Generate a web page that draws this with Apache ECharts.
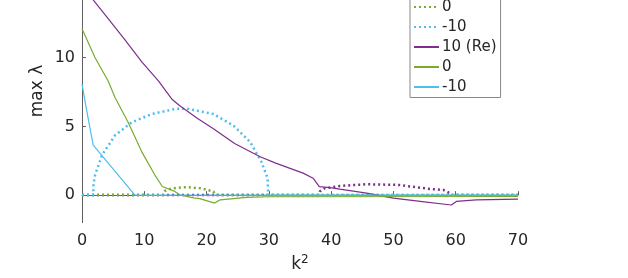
<!DOCTYPE html>
<html><head><meta charset="utf-8">
<script src="https://cdn.jsdelivr.net/npm/echarts@6/dist/echarts.min.js"></script>
<style>html,body{margin:0;padding:0;background:#fff;overflow:hidden}#c{position:absolute;left:0;top:-30px;width:628px;height:308px}</style>
</head><body><div id="c"></div>
<script>
// x tick values and y tick values
const xTicks = [0, 10, 20, 30, 40, 50, 60, 70];
const yTicks = [0, 5, 10, 15];

// 10 (dotted, purple)
const d10X = [0, 38.0, 38.2, 39, 41.4, 45.7, 51, 52.7, 55.9, 58, 59.1, 59.5, 70];
const d10Y = [0, 0, 0.27, 0.5, 0.67, 0.79, 0.74, 0.63, 0.45, 0.38, 0.14, 0, 0];
// 0 (dotted, green)
const d0X = [0, 13.0, 13.3, 14.5, 16.8, 19, 21.1, 21.4, 70];
const d0Y = [0, 0, 0.3, 0.5, 0.58, 0.5, 0.27, 0, 0];
// -10 (dotted, cyan)
const dm10X = [0, 1.8, 1.85, 2.1, 3.2, 5.3, 8.0, 11.2, 14.9, 16.8, 21.1, 24.3, 27.0, 28.8, 29.8, 29.9, 70];
const dm10Y = [0, 0, 0.8, 1.46, 2.9, 4.35, 5.3, 5.9, 6.27, 6.3, 5.9, 5.07, 3.87, 2.43, 1.23, 0, 0];
// 10 (Re) (solid, purple)
const s10X = [0, 1.8, 4.2, 6.9, 9.6, 12.3, 14.4, 15.7, 18.5, 21.1, 24.5, 28.6, 31, 33.4, 35.5, 37.1, 38.1, 39.8, 41.4, 45.7, 50, 54.3, 59.3, 60.1, 63.3, 70];
const s10Y = [15.4, 14.2, 12.85, 11.3, 9.7, 8.3, 7.0, 6.5, 5.6, 4.83, 3.75, 2.79, 2.35, 1.95, 1.6, 1.23, 0.62, 0.55, 0.43, 0.14, -0.22, -0.45, -0.72, -0.46, -0.34, -0.29];
// 0 (solid, green)
const s0X = [0, 2.1, 4.2, 5.3, 7.4, 9.6, 11.7, 12.9, 14.9, 15.7, 17.9, 18.9, 21.3, 22.2, 26.4, 30, 70];
const s0Y = [12.1, 10.0, 8.3, 7.1, 5.3, 3.15, 1.46, 0.63, 0.27, 0.02, -0.2, -0.25, -0.58, -0.34, -0.17, -0.12, -0.1];
// -10 (solid, cyan)
const sm10X = [0, 0.5, 1.0, 1.8, 8.5, 70];
const sm10Y = [8.1, 6.8, 5.55, 3.63, 0, 0];

const legendLabels = { d10: '10', d0: '0', dm10: '-10', s10: '10 (Re)', s0: '0', sm10: '-10' };

const PURPLE = '#7E2F8E', GREEN = '#77AC30', CYAN = '#4DBEEE';
const FONT = 'DejaVu Sans';
const TXT = '#262626';
const AX = '#606060';

function zip(xs, ys) { return xs.map((x, i) => [x, ys[i]]); }
function dotted(name, xs, ys, color) {
  return { name, type: 'line', data: zip(xs, ys), symbol: 'none', animation: false,
    lineStyle: { color, width: 2.5, type: [2, 3] }, itemStyle: { color } };
}
function solid(name, xs, ys, color) {
  return { name, type: 'line', data: zip(xs, ys), symbol: 'none', animation: false,
    lineStyle: { color, width: 1.2, type: 'solid' }, itemStyle: { color } };
}

const chart = echarts.init(document.getElementById('c'), null, { renderer: 'canvas' });
chart.setOption({
  backgroundColor: '#fff',
  animation: false,
  grid: { left: 82, right: 110, top: 19, bottom: 54, containLabel: false },
  xAxis: {
    type: 'value', min: 0, max: 70, interval: 10,
    name: 'k{sup|2}', nameLocation: 'middle', nameGap: 25,
    nameTextStyle: { fontFamily: FONT, fontSize: 17, color: TXT,
      rich: { sup: { fontFamily: FONT, fontSize: 12, color: TXT, verticalAlign: 'bottom', padding: [0, 0, 10, 0] } } },
    axisLine: { show: true, lineStyle: { color: AX, width: 1 } },
    axisTick: { show: true, inside: true, length: 4, lineStyle: { color: AX } },
    axisLabel: { fontFamily: FONT, fontSize: 16, color: TXT, margin: 10 },
    splitLine: { show: false }
  },
  yAxis: {
    type: 'value', min: -2, max: 15,
    axisLine: { show: true, onZero: false, lineStyle: { color: AX, width: 1 } },
    axisTick: { show: true, inside: true, length: 4, lineStyle: { color: AX }, customValues: yTicks },
    axisLabel: { fontFamily: FONT, fontSize: 16, color: TXT, margin: 7, customValues: yTicks },
    splitLine: { show: false }
  },
  legend: {
    orient: 'vertical', left: 410, top: 6.5,
    padding: [3, 4, 3, 3], itemGap: 5, itemWidth: 25, itemHeight: 14,
    backgroundColor: '#fff', borderColor: '#8a8a8a', borderWidth: 1, borderRadius: 0,
    itemStyle: { opacity: 0 },
    textStyle: { fontFamily: FONT, fontSize: 15, color: TXT, padding: [0, 0, 0, -2] },
    formatter: n => legendLabels[n],
    data: ['d10', 'd0', 'dm10', 's10', 's0', 'sm10']
  },
  graphic: [{
    type: 'text', x: 38, y: 121, rotation: Math.PI / 2,
    style: { text: 'max λ', fontFamily: FONT, fontSize: 17, fill: TXT, textAlign: 'center', textVerticalAlign: 'middle' }
  }],
  series: [
    dotted('d10', d10X, d10Y, PURPLE),
    dotted('d0', d0X, d0Y, GREEN),
    dotted('dm10', dm10X, dm10Y, CYAN),
    solid('s10', s10X, s10Y, PURPLE),
    solid('s0', s0X, s0Y, GREEN),
    solid('sm10', sm10X, sm10Y, CYAN)
  ]
});
</script></body></html>
